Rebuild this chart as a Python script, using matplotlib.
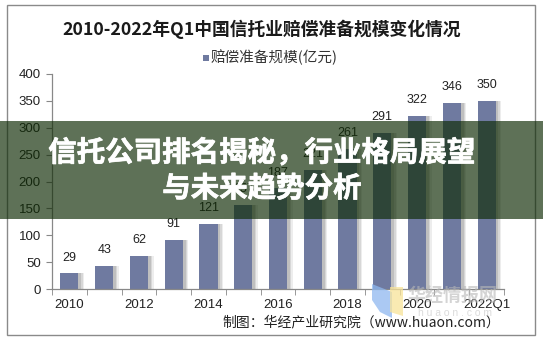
import matplotlib.pyplot as plt
import matplotlib.patheffects as pe
from matplotlib.patches import Rectangle, Polygon
import numpy as np

plt.rcParams['font.family'] = ['Liberation Sans', 'Noto Sans CJK SC']

# annual compensation reserve, 100 million yuan
years = ['2010', '2011', '2012', '2013', '2014', '2015', '2016',
         '2017', '2018', '2019', '2020', '2021', '2022Q1']
reserve = [29, 43, 62, 91, 121, 157, 187, 221, 261, 291, 322, 346, 350]
shown_ticks = ['2010', '2012', '2014', '2016', '2018', '2020', '2022Q1']
y_ticks = [0, 50, 100, 150, 200, 250, 300, 350, 400]

W, H = 543, 341


def px(x, y):
    # pixel position (from top-left) -> figure fraction
    return x / W, 1 - y / H


fig = plt.figure(figsize=(W / 100, H / 100), dpi=100)
fig.patch.set_facecolor('white')
ax = fig.add_axes([52 / W, 1 - 289 / H, 452 / W, 215 / H])

x = np.arange(len(years))
bar_col = '#6f7aa0'

# soft shadow on the right side of each bar
for off, a in [(0.16, 0.10), (0.12, 0.14), (0.08, 0.18)]:
    ax.bar(x + off, reserve, width=0.52, color='#555555', alpha=a, lw=0, zorder=1)
ax.bar(x, reserve, width=0.52, color=bar_col, lw=0, zorder=2)

for xi, v in zip(x, reserve):
    ax.annotate(str(v), (xi, v), xytext=(0, 7), textcoords='offset points',
                ha='center', va='bottom', fontsize=9, color='#222222')

ax.set_xlim(-0.5, len(years) - 0.5)
ax.set_ylim(0, 400)
ax.set_yticks(y_ticks)
ax.set_xticks(x)
ax.set_xticklabels([y if y in shown_ticks else '' for y in years])
ax.set_xticks(np.arange(-0.5, len(years), 1), minor=True)
ax.tick_params(axis='x', which='major', length=0, pad=7, labelsize=9.5, labelcolor='#222222')
ax.tick_params(axis='x', which='minor', length=4, color='#888888', direction='out')
ax.tick_params(axis='y', length=4, color='#888888', labelsize=9.5, labelcolor='#222222', pad=4)
for s in ['top', 'right']:
    ax.spines[s].set_visible(False)
for s in ['left', 'bottom']:
    ax.spines[s].set_color('#888888')
    ax.spines[s].set_linewidth(0.9)

# title and legend line
fig.text(*px(262, 29), '2010-2022年Q1中国信托业赔偿准备规模变化情况', ha='center', va='center',
         fontsize=12.8, fontweight='bold', color='#1a1a1a',
         family=['Noto Sans CJK SC'])
fig.patches.append(Rectangle(px(203, 61), 6 / W, 6 / H, transform=fig.transFigure,
                             facecolor=bar_col, lw=0))
fig.text(*px(211, 57), '赔偿准备规模(亿元)', ha='left', va='center', fontsize=10.5,
         color='#333333', family=['Noto Sans CJK SC'])

# source line
fig.text(*px(500, 322), '制图：华经产业研究院（www.huaon.com）', ha='right', va='center',
         fontsize=10, color='#222222', family=['Noto Sans CJK SC', 'Liberation Sans'])

# watermark
fig.patches.append(Polygon([px(372, 284), px(392, 292), px(392, 318), px(380, 312), px(372, 300)],
                           closed=True, transform=fig.transFigure, facecolor='#8fb8f0',
                           alpha=0.75, lw=0, zorder=3))
fig.patches.append(Polygon([px(390, 287), px(403, 287), px(403, 316), px(390, 312)],
                           closed=True, transform=fig.transFigure, facecolor='#f8e398',
                           alpha=0.75, lw=0, zorder=3))
fig.text(*px(452, 296), '华经情报网', ha='center', va='center', fontsize=13,
         color='#b8b8b8', alpha=0.6, fontweight='bold', family=['Noto Sans CJK SC'], zorder=3)
fig.text(*px(455, 313), 'h u a o n . c o m', ha='center', va='center', fontsize=7.5,
         color='#cccccc', alpha=0.7, zorder=3)

# outer frame
fig.patches.append(Rectangle(px(7, 335), 528 / W, 330 / H, transform=fig.transFigure,
                             fill=False, edgecolor='#8a8a8a', lw=1.0, zorder=4))

# headline banner across the chart
fig.patches.append(Rectangle(px(0, 219), 1, 98 / H, transform=fig.transFigure,
                             facecolor='#0f2b05', alpha=0.67, lw=0, zorder=5))
fig.text(*px(262, 171), '信托公司排名揭秘，行业格局展望\n与未来趋势分析', ha='center', va='center',
         fontsize=20.5, fontweight='bold', color='white', linespacing=1.35,
         family=['Noto Sans CJK SC'], zorder=6,
         path_effects=[pe.withStroke(linewidth=0.5, foreground='white')])

fig.savefig('out.png', dpi=100)
